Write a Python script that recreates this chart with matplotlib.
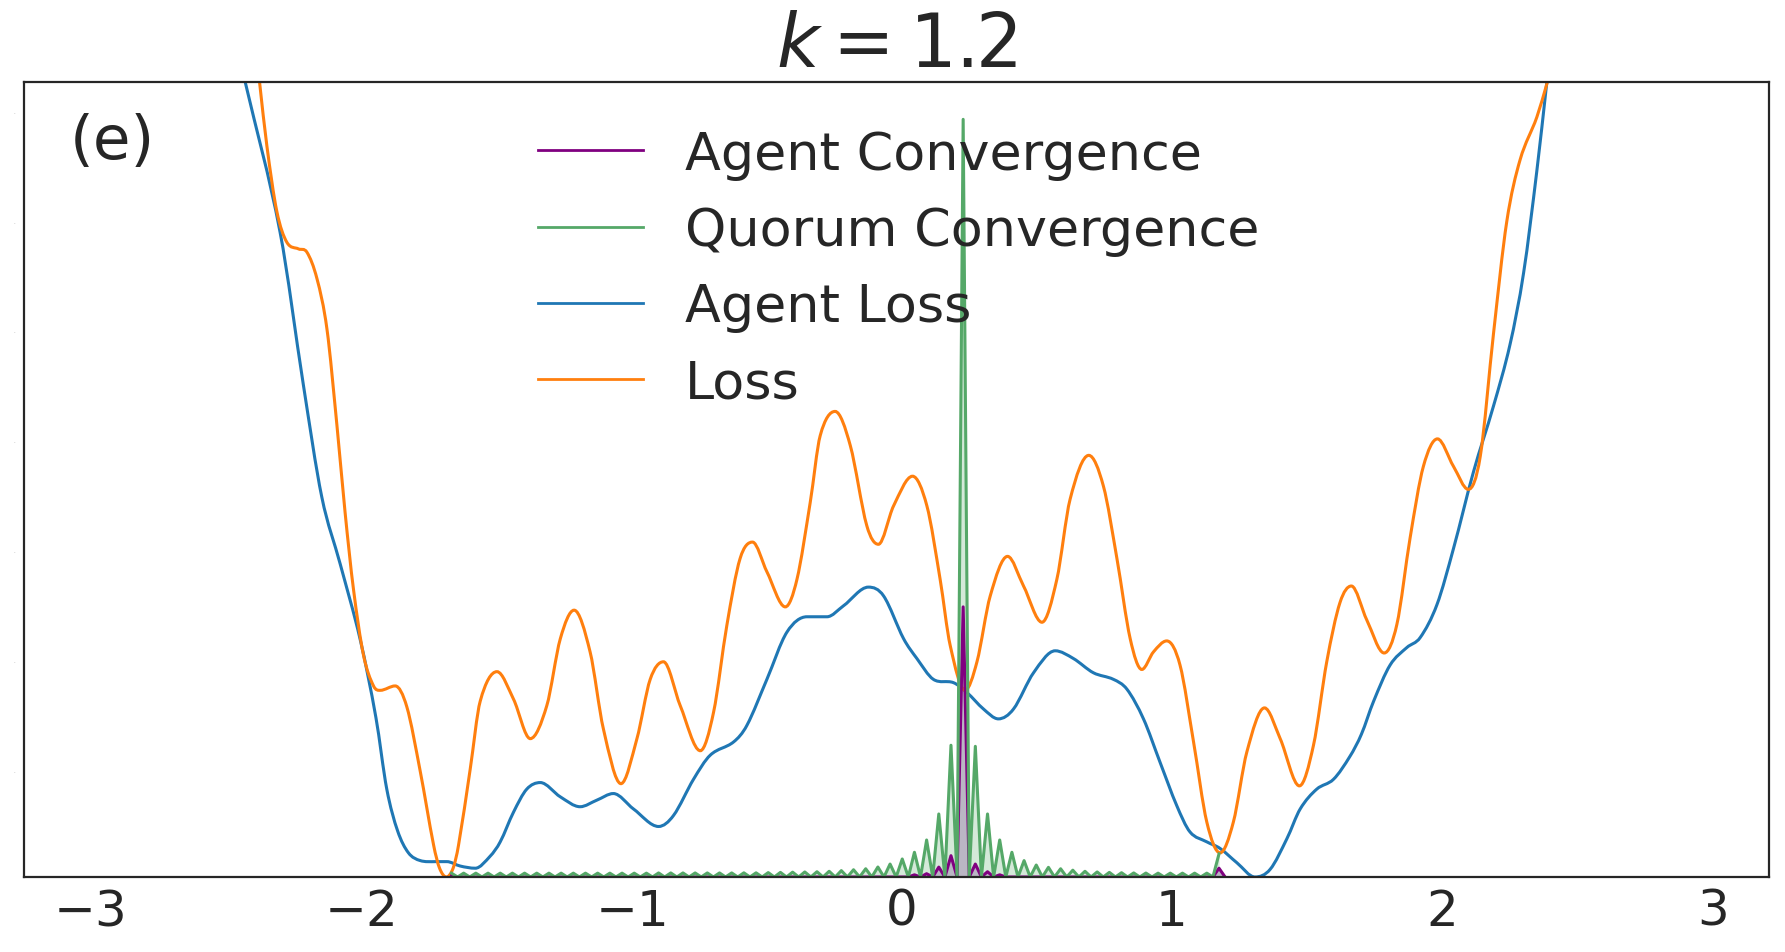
import numpy as np
import matplotlib
matplotlib.use("Agg")
import matplotlib.pyplot as plt
from matplotlib.path import Path
from matplotlib.patches import PathPatch
from matplotlib.lines import Line2D

# ---- data ----
loss_x = [-2.370, -2.343, -2.306, -2.269, -2.226, -2.195, -2.158, -2.121, -2.084, -2.054,
          -2.023, -1.986, -1.949, -1.924, -1.869, -1.826, -1.777, -1.727, -1.705, -1.680,
          -1.655, -1.635, -1.592, -1.555, -1.493, -1.432, -1.370, -1.309, -1.259, -1.208,
          -1.149, -1.100, -1.035, -0.976, -0.927, -0.878, -0.816, -0.742, -0.693, -0.644,
          -0.595, -0.549, -0.496, -0.428, -0.385, -0.336, -0.299, -0.244, -0.188, -0.127,
          -0.084, -0.028, 0.042, 0.095, 0.144, 0.181, 0.236, 0.280, 0.329, 0.393,
          0.452, 0.520, 0.575, 0.624, 0.693, 0.747, 0.797, 0.846, 0.889, 0.932,
          0.981, 1.030, 1.080, 1.129, 1.178, 1.227, 1.277, 1.342, 1.400, 1.471,
          1.523, 1.572, 1.621, 1.663, 1.720, 1.784, 1.831, 1.880, 1.929, 1.981,
          2.040, 2.095, 2.139, 2.188, 2.237, 2.286, 2.348, 2.387]
loss_y = [7.24, 6.66, 6.06, 5.78, 5.72, 5.69, 5.45, 4.99, 4.11, 3.32,
          2.62, 2.02, 1.74, 1.70, 1.74, 1.55, 0.97, 0.29, 0.08, 0.0,
          0.08, 0.29, 0.98, 1.60, 1.87, 1.62, 1.26, 1.56, 2.17, 2.43,
          2.05, 1.35, 0.85, 1.26, 1.80, 1.96, 1.56, 1.15, 1.50, 2.29,
          2.90, 3.05, 2.78, 2.46, 2.71, 3.41, 4.02, 4.24, 3.93, 3.20,
          3.03, 3.38, 3.65, 3.38, 2.71, 2.11, 1.70, 1.96, 2.56, 2.92,
          2.65, 2.32, 2.71, 3.44, 3.84, 3.56, 2.90, 2.17, 1.89, 2.05,
          2.15, 1.93, 1.23, 0.50, 0.22, 0.50, 1.14, 1.54, 1.26, 0.83,
          1.20, 1.96, 2.50, 2.65, 2.34, 2.04, 2.30, 3.09, 3.74, 3.99,
          3.74, 3.53, 3.83, 4.95, 5.97, 6.53, 6.92, 7.24]

agent_loss_x = [-2.423, -2.294, -2.208, -2.140, -2.072, -1.998, -1.940, -1.900, -1.860, -1.820,
                -1.777, -1.720, -1.678, -1.629, -1.573, -1.518, -1.481, -1.432, -1.383, -1.333,
                -1.259, -1.186, -1.124, -1.063, -0.989, -0.896, -0.841, -0.767, -0.705, -0.619,
                -0.570, -0.496, -0.422, -0.348, -0.274, -0.213, -0.121, -0.065, 0.009, 0.058,
                0.119, 0.193, 0.243, 0.304, 0.359, 0.415, 0.489, 0.569, 0.636, 0.710,
                0.784, 0.834, 0.895, 0.957, 1.018, 1.067, 1.129, 1.178, 1.240, 1.307,
                1.363, 1.425, 1.474, 1.535, 1.597, 1.658, 1.700, 1.745, 1.806, 1.868,
                1.917, 1.979, 2.040, 2.114, 2.188, 2.249, 2.299, 2.348, 2.385]
agent_loss_y = [7.24, 5.87, 4.48, 3.46, 2.85, 2.16, 1.45, 0.80, 0.42, 0.22,
                0.15, 0.14, 0.14, 0.10, 0.08, 0.19, 0.32, 0.59, 0.80, 0.86,
                0.73, 0.64, 0.70, 0.76, 0.62, 0.46, 0.56, 0.89, 1.11, 1.23,
                1.38, 1.80, 2.23, 2.37, 2.37, 2.47, 2.64, 2.56, 2.17, 1.99,
                1.80, 1.77, 1.68, 1.53, 1.44, 1.53, 1.86, 2.06, 1.99, 1.86,
                1.80, 1.71, 1.44, 1.04, 0.65, 0.41, 0.32, 0.26, 0.13, 0.0,
                0.07, 0.35, 0.62, 0.80, 0.89, 1.10, 1.30, 1.60, 1.93, 2.09,
                2.18, 2.48, 2.99, 3.69, 4.29, 4.85, 5.50, 6.43, 7.24]

# convergence counts: samples alternate peak / zero on a 0.0225 grid
conv_start = -1.661
conv_step = 0.0225
quorum_peaks = [0.035, 0.035, 0.035, 0.035, 0.035, 0.035, 0.035, 0.035, 0.035, 0.035,
                0.035, 0.035, 0.035, 0.035, 0.035, 0.035, 0.035, 0.037, 0.037, 0.037,
                0.037, 0.037, 0.037, 0.037, 0.038, 0.038, 0.040, 0.042, 0.044, 0.046,
                0.048, 0.052, 0.058, 0.066, 0.075, 0.091, 0.118, 0.164, 0.225, 0.337,
                0.574, 1.20, 6.90, 1.19, 0.574, 0.337, 0.225, 0.149, 0.109, 0.088,
                0.075, 0.062, 0.052, 0.046, 0.042, 0.039, 0.037, 0.036, 0.035, 0.035,
                0.035, 0.035, 0.035, 0.21]
agent_peaks = [0.01, 0.0, 0.0, 0.0, 0.0, 0.0, 0.0, 0.0, 0.0, 0.0,
               0.0, 0.0, 0.0, 0.0, 0.0, 0.0, 0.0, 0.0, 0.0, 0.0,
               0.0, 0.0, 0.0, 0.0, 0.0, 0.0, 0.0, 0.0, 0.0, 0.0,
               0.0, 0.0, 0.0, 0.0, 0.0, 0.0, 0.0, 0.0, 0.02, 0.03,
               0.09, 0.194, 2.46, 0.118, 0.048, 0.02, 0.0, 0.0, 0.0, 0.0,
               0.0, 0.0, 0.0, 0.0, 0.0, 0.0, 0.0, 0.0, 0.0, 0.0,
               0.0, 0.0, 0.0, 0.08]

xticks = [-3, -2, -1, 0, 1, 2, 3]
labels = ["Agent Convergence", "Quorum Convergence", "Agent Loss", "Loss"]
c_agent_conv, c_quorum, c_agent_loss, c_loss = "purple", "#55a868", "#1f77b4", "#ff7f0e"


def interleave(peaks, tail_zero=False):
    # peak, zero, peak, zero ... ; optional trailing zero
    vals = []
    for i, p in enumerate(peaks):
        vals.append(p)
        if i < len(peaks) - 1 or tail_zero:
            vals.append(0.0)
    xs = conv_start + conv_step * np.arange(len(vals))
    return xs, np.array(vals)


def smooth_path(xs, ys):
    # cubic bezier segments through the read points (catmull-rom style tangents)
    xs, ys = np.asarray(xs, float), np.asarray(ys, float)
    n = len(xs)
    d = np.diff(ys) / np.diff(xs)
    m = np.zeros(n)
    m[0], m[-1] = d[0], d[-1]
    for i in range(1, n - 1):
        if d[i - 1] * d[i] > 0:
            m[i] = (ys[i + 1] - ys[i - 1]) / (xs[i + 1] - xs[i - 1])
    verts = [(xs[0], ys[0])]
    codes = [Path.MOVETO]
    for i in range(n - 1):
        h = xs[i + 1] - xs[i]
        verts += [(xs[i] + h / 3, ys[i] + m[i] * h / 3),
                  (xs[i + 1] - h / 3, ys[i + 1] - m[i + 1] * h / 3),
                  (xs[i + 1], ys[i + 1])]
        codes += [Path.CURVE4] * 3
    return Path(verts, codes)


plt.rcParams["font.family"] = ["DejaVu Sans"]
plt.rcParams["text.color"] = "#262626"

fig = plt.figure(figsize=(17.85, 9.53), dpi=100)
ax = fig.add_axes([0.01345, 0.0787, 0.9775, 0.8342])

qx, qy = interleave(quorum_peaks)
ax_x, ax_y = interleave(agent_peaks, tail_zero=True)

ax.fill_between(qx, qy, color=c_quorum, alpha=0.25, lw=0)
ax.fill_between(ax_x, ax_y, color="#bab6c4", lw=0)
ax.plot(ax_x, ax_y, color=c_agent_conv, lw=2.2)
ax.plot(qx, qy, color=c_quorum, lw=2.2)

ax.add_patch(PathPatch(smooth_path(agent_loss_x, agent_loss_y), fill=False,
                       edgecolor=c_agent_loss, lw=2.2))
ax.add_patch(PathPatch(smooth_path(loss_x, loss_y), fill=False,
                       edgecolor=c_loss, lw=2.2))

ax.set_xlim(-3.24, 3.205)
ax.set_ylim(0, 7.24)
ax.set_xticks(xticks)
ax.set_xticklabels([f"${t}$" if t < 0 else str(t) for t in xticks])
ax.tick_params(axis="x", length=0, labelsize=36, pad=7, colors="#262626")
ax.set_yticks([0.965 + k for k in range(7)])
ax.set_yticklabels(["0"] * 7)
ax.tick_params(axis="y", length=0, labelsize=1.5, labelcolor="#aaaaaa", pad=6)
for s in ax.spines.values():
    s.set_color("#262626")
    s.set_linewidth(1.6)

ax.set_title("$k = 1.2$", fontsize=53, pad=7, color="#262626")
ax.text(0.026, 0.925, "(e)", transform=ax.transAxes, fontsize=44,
        va="center", ha="left", color="#262626")

handles = [Line2D([], [], color=c, lw=2)
           for c in (c_agent_conv, c_quorum, c_agent_loss, c_loss)]
ax.legend(handles, labels, loc="upper left", bbox_to_anchor=(0.2946, 0.94),
          frameon=False, fontsize=37.7, handlelength=2.0, handletextpad=0.8,
          labelspacing=0.5, borderpad=0, borderaxespad=0)

fig.savefig("out.png", dpi=100)
